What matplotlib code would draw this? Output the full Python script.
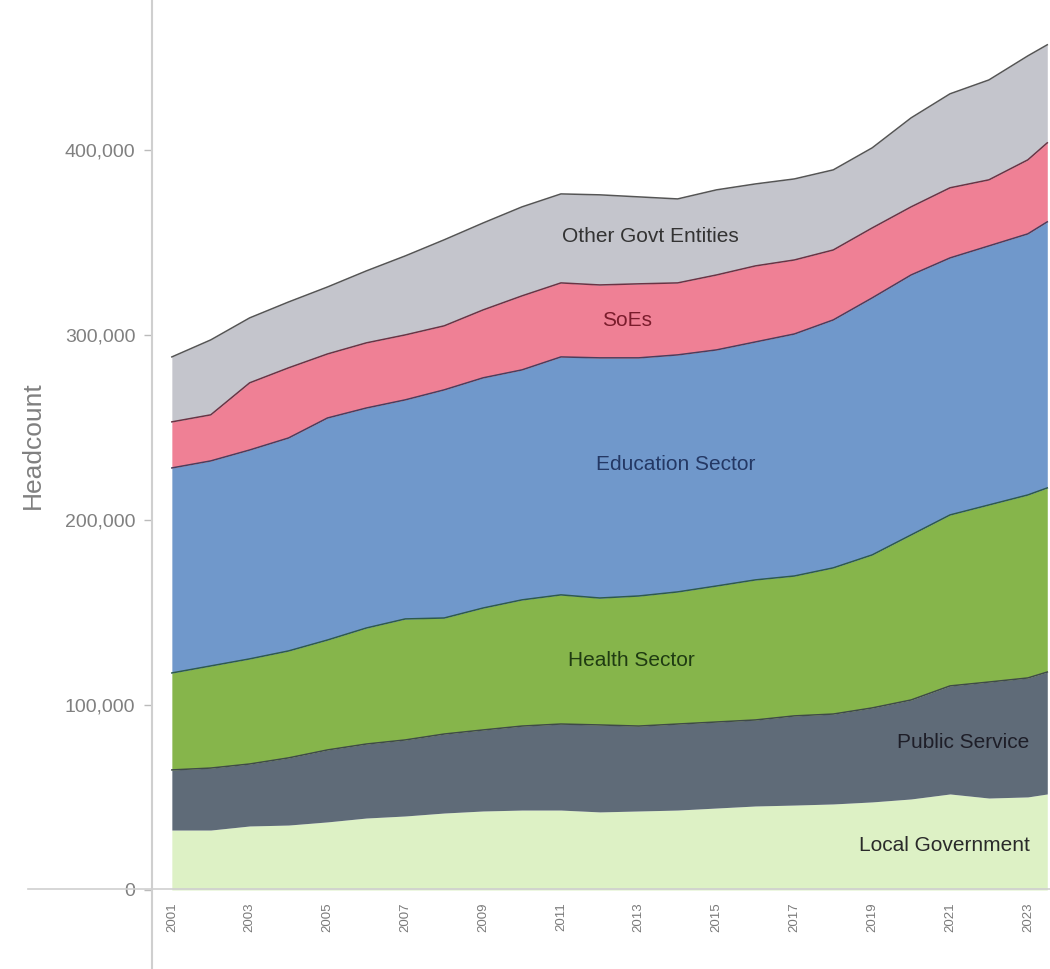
import numpy as np
import matplotlib
matplotlib.use("Agg")
import matplotlib.pyplot as plt
from matplotlib.lines import Line2D
from matplotlib.ticker import FuncFormatter

plt.rcParams['font.family'] = ['Liberation Sans', 'DejaVu Sans']

# headcount by sector (June of each year, last point mid-2023)
years = [2001, 2002, 2003, 2004, 2005, 2006, 2007, 2008, 2009, 2010, 2011, 2012,
         2013, 2014, 2015, 2016, 2017, 2018, 2019, 2020, 2021, 2022, 2023, 2023.5]

local_gov = [32400, 32400, 34600, 35100, 36800, 38900, 40000, 41600, 42700, 43200, 43200, 42200,
             42700, 43200, 44300, 45400, 45900, 46500, 47600, 49200, 51900, 49700, 50300, 51900]
public_service = [32500, 33500, 33500, 36300, 38900, 40000, 41100, 42700, 43800, 45400, 46500, 47000,
                  45900, 46500, 46500, 46500, 48200, 48600, 50800, 53500, 58400, 62700, 64300, 65900]
health = [52400, 55200, 56800, 57800, 59400, 62700, 65400, 62700, 65900, 68200, 69800, 68600,
          70300, 71400, 73500, 75700, 75600, 79000, 82700, 89200, 92400, 95700, 98900, 99500]
education = [110800, 110800, 112900, 115100, 120000, 118900, 118400, 123300, 124400, 124300, 128600, 129800,
             128700, 128100, 127600, 128600, 130800, 134000, 138900, 140500, 138900, 140000, 141100, 143800]
soes = [24900, 24900, 36300, 37900, 34600, 35200, 35100, 34600, 36700, 40000, 40000, 39400,
        40000, 38900, 40500, 41100, 40000, 37800, 37800, 36800, 37900, 35700, 40000, 42700]
other_govt = [35100, 40500, 35100, 35600, 36200, 38900, 42700, 46500, 47000, 48100, 48100, 48700,
              47000, 45400, 46000, 44300, 43800, 43300, 43300, 48100, 50800, 54000, 56200, 53000]

tick_years = [2001, 2003, 2005, 2007, 2009, 2011, 2013, 2015, 2017, 2019, 2021, 2023]

layers = [local_gov, public_service, health, education, soes, other_govt]
fills = ['#ddf1c5', '#5f6b78', '#86b54b', '#7098cb', '#ef8095', '#c4c5cc']
edges = [None, '#3f4a48', '#2e5a4c', '#4b3d5c', '#6a3344', '#555555']

labels = ['Local Government', 'Public Service', 'Health Sector',
          'Education Sector', 'SoEs', 'Other Govt Entities']
label_pos = [(2020.85, 23800), (2021.35, 79500), (2012.8, 124000),
             (2013.95, 230000), (2012.7, 308000), (2013.3, 353000)]
label_cols = ['#2a2a2a', '#1e1e28', '#1f3b12', '#243864', '#7a1c2c', '#333333']

fig = plt.figure(figsize=(10.5, 9.69), dpi=100)
ax = fig.add_axes([152 / 1050, 79 / 969, 898 / 1050, 890 / 969])

x = np.array(years)
base = np.zeros(len(x))
for vals, fc, ec in zip(layers, fills, edges):
    top = base + np.array(vals)
    ax.fill_between(x, base, top, color=fc, linewidth=0)
    if ec is not None:
        ax.plot(x, top, color=ec, linewidth=1.1)
    base = top

for text, (tx, ty), col in zip(labels, label_pos, label_cols):
    ax.text(tx, ty, text, color=col, fontsize=15, ha='center', va='center')

ax.set_xlim(2000.49, 2023.57)
ax.set_ylim(0, 481000)

ax.set_yticks([0, 100000, 200000, 300000, 400000])
ax.yaxis.set_major_formatter(FuncFormatter(lambda v, p: f'{int(v):,}'))
ax.tick_params(axis='y', colors='#bbbbbb', labelcolor='#808080', labelsize=14,
               length=6, width=1, pad=6)
ax.set_xticks(tick_years)
ax.set_xticklabels([str(t) for t in tick_years], rotation=90, fontsize=9.5)
ax.tick_params(axis='x', length=0, labelcolor='#7a7a7a', pad=9)

ax.set_ylabel('Headcount', fontsize=19, color='#808080', labelpad=14)

for side in ['top', 'right', 'bottom', 'left']:
    ax.spines[side].set_visible(False)

# axis lines that run past the plot area
fig.add_artist(Line2D([152 / 1050, 152 / 1050], [0, 1], color='#cfcfcf', linewidth=1.5))
fig.add_artist(Line2D([28 / 1050, 1], [80 / 969, 80 / 969], color='#cfcfcf', linewidth=1.2))

fig.savefig('out.png', dpi=100, facecolor='white')
